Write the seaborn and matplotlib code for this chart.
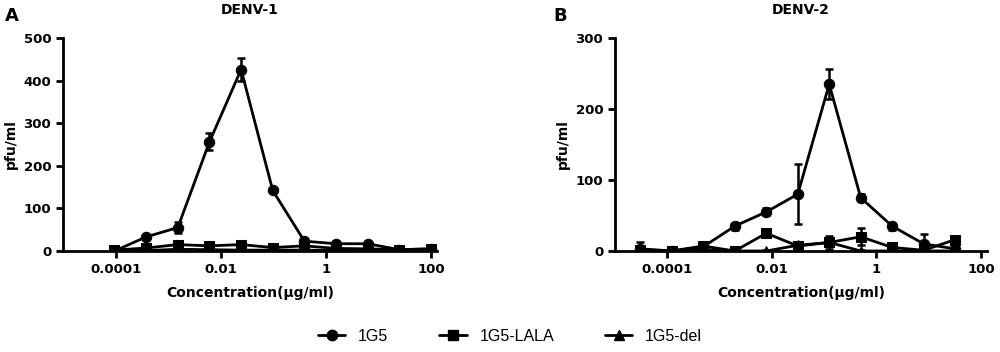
import numpy as np
import pandas as pd
import matplotlib
matplotlib.use('Agg')
import matplotlib.pyplot as plt
from matplotlib.lines import Line2D
import seaborn as sns

# concentrations (ug/ml), 4-fold dilutions
conc_denv1 = [100 / 4 ** k for k in range(10, -1, -1)]
conc_denv2 = [32 / 4 ** k for k in range(10, -1, -1)]

# DENV-1 values (pfu/ml) and errors
d1_1g5 = [0, 33, 55, 256, 426, 142, 23, 17, 17, 3, 5]
d1_1g5_err = [2, 3, 12, 20, 28, 4, 4, 3, 3, 2, 2]
d1_lala = [2, 7, 15, 12, 15, 8, 12, 6, 5, 3, 5]
d1_lala_err = [1, 2, 8, 4, 8, 2, 3, 2, 2, 1, 2]
d1_del = [0, 1, 4, 3, 2, 2, 2, 1, 1, 1, 1]
d1_del_err = [1, 1, 3, 2, 2, 1, 1, 1, 1, 1, 1]

# DENV-2 values
d2_1g5 = [3, 0, 6, 35, 55, 80, 235, 75, 35, 10, 3]
d2_1g5_err = [3, 1, 3, 5, 5, 42, 21, 5, 5, 14, 2]
d2_lala = [2, 0, 7, 0, 25, 7, 12, 20, 5, 1, 16]
d2_lala_err = [10, 1, 3, 1, 4, 3, 9, 12, 3, 2, 4]
d2_del = [0, 0, 2, 0, 0, 8, 12, 0, 0, 0, 0]
d2_del_err = [1, 1, 1, 1, 1, 2, 4, 1, 1, 1, 1]

groups = ['1G5', '1G5-LALA', '1G5-del']
markers = {'1G5': 'o', '1G5-LALA': 's', '1G5-del': '^'}

sns.set_style('ticks')
plt.rcParams['font.family'] = ['DejaVu Sans']
plt.rcParams['text.color'] = 'black'
plt.rcParams['xtick.color'] = 'black'
plt.rcParams['ytick.color'] = 'black'
plt.rcParams['axes.labelcolor'] = 'black'
plt.rcParams['axes.edgecolor'] = 'black'


def make_df(conc, vals, errs):
    rows = []
    for g, v, e in zip(groups, vals, errs):
        for c, y, er in zip(conc, v, e):
            rows.append({'conc': c, 'pfu': y, 'err': er, 'antibody': g})
    return pd.DataFrame(rows)


df1 = make_df(conc_denv1, [d1_1g5, d1_lala, d1_del], [d1_1g5_err, d1_lala_err, d1_del_err])
df2 = make_df(conc_denv2, [d2_1g5, d2_lala, d2_del], [d2_1g5_err, d2_lala_err, d2_del_err])

fig = plt.figure(figsize=(10, 3.52), dpi=100)
ax1 = fig.add_axes([0.063, 0.287, 0.374, 0.605])
ax2 = fig.add_axes([0.615, 0.287, 0.372, 0.605])


def draw(ax, df, ymax, title):
    for g in groups[::-1]:
        sub = df[df.antibody == g]
        ax.errorbar(sub.conc, sub.pfu, yerr=sub.err, fmt='none', ecolor='black',
                    elinewidth=1.8, capsize=3, capthick=1.8, zorder=2)
    sns.lineplot(data=df, x='conc', y='pfu', hue='antibody', style='antibody',
                 markers=markers, dashes=False, palette=['black'] * 3,
                 markersize=7.5, markeredgecolor='black', linewidth=2,
                 ax=ax, legend=False, zorder=3)
    ax.set_xscale('log')
    ax.set_xlim(1e-5, 130)
    ax.set_ylim(0, ymax)
    ax.set_xticks([1e-4, 1e-2, 1, 100])
    ax.set_xticklabels(['0.0001', '0.01', '1', '100'])
    ax.xaxis.set_minor_locator(matplotlib.ticker.NullLocator())
    ax.set_yticks(np.arange(0, ymax + 1, 100))
    ax.tick_params(width=2, length=5, labelsize=9.5, direction='out')
    for lab in ax.get_xticklabels() + ax.get_yticklabels():
        lab.set_fontweight('bold')
    for s in ['top', 'right']:
        ax.spines[s].set_visible(False)
    for s in ['left', 'bottom']:
        ax.spines[s].set_linewidth(2)
    ax.spines['left'].set_bounds(0, ymax)
    ax.set_xlabel('Concentration(μg/ml)', fontsize=10, fontweight='bold', labelpad=7)
    ax.set_ylabel('pfu/ml', fontsize=10, fontweight='bold', labelpad=4)
    ax.set_title(title, fontsize=10, fontweight='bold', pad=17)


draw(ax1, df1, 500, 'DENV-1')
draw(ax2, df2, 300, 'DENV-2')

fig.text(0.005, 0.955, 'A', fontsize=13, fontweight='bold', va='center')
fig.text(0.553, 0.955, 'B', fontsize=13, fontweight='bold', va='center')

handles = [Line2D([0], [0], color='black', lw=2, marker=markers[g], markersize=7.5)
           for g in groups]
fig.legend(handles, groups, loc='center', bbox_to_anchor=(0.51, 0.045), ncol=3,
           frameon=False, handlelength=1.7, columnspacing=3.2,
           prop={'family': 'Liberation Sans', 'size': 11.5})

fig.savefig('out.png', dpi=100)
